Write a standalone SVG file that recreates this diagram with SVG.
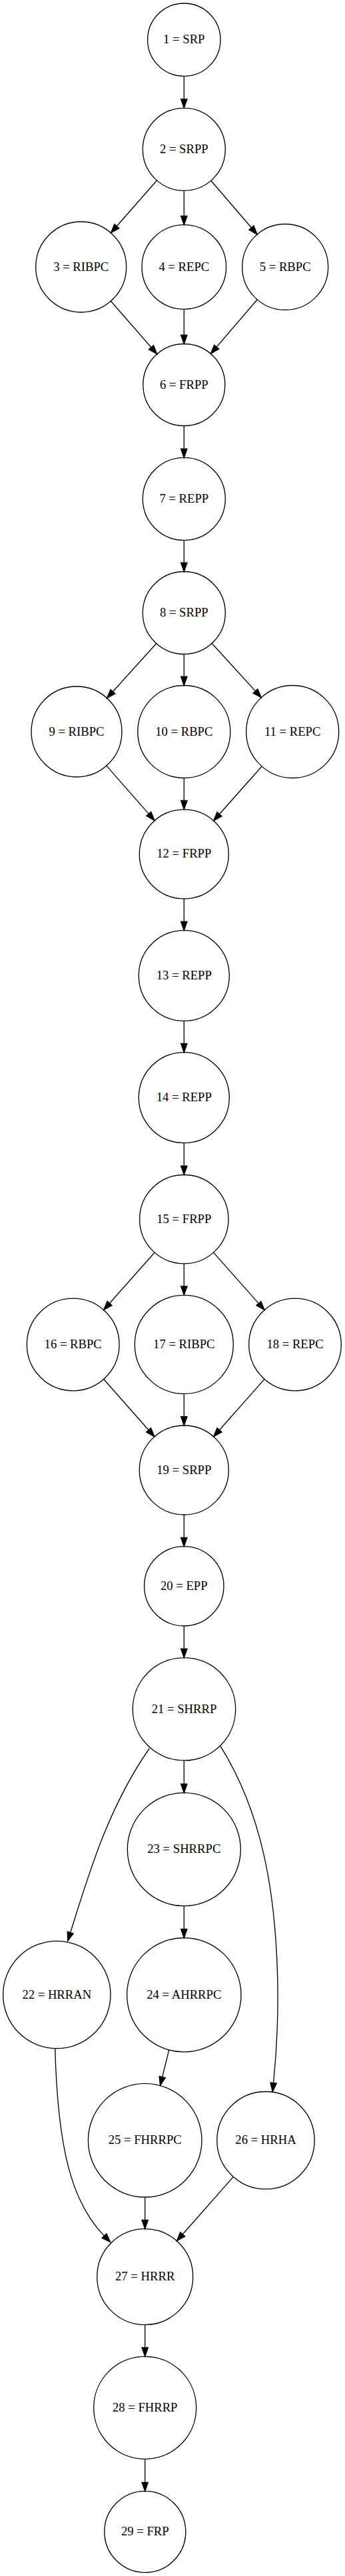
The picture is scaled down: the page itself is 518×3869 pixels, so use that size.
<svg xmlns="http://www.w3.org/2000/svg" width="518" height="3869" viewBox="0 0 518 3869">
<style>
.n ellipse{fill:none;stroke:#000;stroke-width:1.33}
.n text{font-family:"Liberation Serif","Times New Roman",serif;font-size:18.67px;text-anchor:middle;fill:#000}
.e path{fill:none;stroke:#000;stroke-width:1.33;marker-end:url(#ah)}
</style>
<defs>
<marker id="ah" viewBox="0 0 10 7" refX="0" refY="3.5" markerWidth="13.33" markerHeight="9.33" markerUnits="userSpaceOnUse" orient="auto" overflow="visible">
<path d="M0,0 L10,3.5 L0,7 Z" fill="#000" stroke="#000" stroke-width="1"/>
</marker>
</defs>
<rect x="0" y="0" width="518" height="3869" fill="#fff"/>
<g id="edges" class="e">
<path d="M276.3,114.4 L276.3,149"/>
<path d="M235.5,271 L175.3,339.8"/>
<path d="M276.3,286.3 L276.3,324.4"/>
<path d="M316.7,271.3 L377.5,342"/>
<path d="M166.4,452.2 L227,521.7"/>
<path d="M276.3,464.3 L276.3,503.2"/>
<path d="M386.2,450 L325.1,521.2"/>
<path d="M276.3,639.5 L276.3,674.1"/>
<path d="M276.3,811.4 L276.3,845.2"/>
<path d="M234.7,966.5 L169.5,1038.7"/>
<path d="M276.3,982.5 L276.3,1016.2"/>
<path d="M318.1,966.3 L383.4,1037.9"/>
<path d="M159.9,1150.1 L223.3,1222.4"/>
<path d="M276.3,1168.5 L276.3,1202.5"/>
<path d="M393.1,1151 L329.5,1222.7"/>
<path d="M276.3,1349.8 L276.3,1384.1"/>
<path d="M276.3,1533.4 L276.3,1567.3"/>
<path d="M276.3,1716.6 L276.3,1751.2"/>
<path d="M232.1,1881.2 L164.5,1957.5"/>
<path d="M276.3,1897.9 L276.3,1932"/>
<path d="M320.5,1881.1 L388.3,1957.6"/>
<path d="M155.7,2071.5 L223.1,2147.8"/>
<path d="M276.3,2093.3 L276.3,2127.7"/>
<path d="M397.1,2071.4 L329.5,2147.8"/>
<path d="M276.3,2275 L276.3,2309.3"/>
<path d="M276.3,2442 L276.3,2476.5"/>
<path d="M224.3,2626 C161.5,2716.3 132.7,2816.7 105.7,2902.6"/>
<path d="M276.3,2644.2 L276.3,2679.4"/>
<path d="M331,2622.7 C394.5,2724.6 412.9,2843 416.5,2963 C418.2,3018 416.1,3073.7 410.6,3128.4"/>
<path d="M276.3,2862.7 L276.3,2897.4"/>
<path d="M253.8,3078.7 L243.7,3119.5"/>
<path d="M82.7,3076.7 C86.6,3226.7 107.6,3307.9 156.4,3358.1"/>
<path d="M217.7,3300 L217.7,3334.4"/>
<path d="M350.4,3269.4 L274.2,3355.8"/>
<path d="M217.7,3491.7 L217.7,3526"/>
<path d="M217.7,3693.3 L217.7,3728.4"/>
</g>
<g id="node1" class="n"><ellipse cx="276.3" cy="59.7" rx="54.7" ry="54.7"/><text x="276.3" y="65.3">1 = SRP</text></g>
<g id="node2" class="n"><ellipse cx="276.3" cy="224.3" rx="62" ry="62"/><text x="276.3" y="229.9">2 = SRPP</text></g>
<g id="node3" class="n"><ellipse cx="121.7" cy="401" rx="68" ry="68"/><text x="121.7" y="406.6">3 = RIBPC</text></g>
<g id="node4" class="n"><ellipse cx="276.3" cy="401" rx="63.3" ry="63.3"/><text x="276.3" y="406.6">4 = REPC</text></g>
<g id="node5" class="n"><ellipse cx="428.2" cy="401" rx="64.5" ry="64.5"/><text x="428.2" y="406.6">5 = RBPC</text></g>
<g id="node6" class="n"><ellipse cx="276.3" cy="578" rx="61.5" ry="61.5"/><text x="276.3" y="583.6">6 = FRPP</text></g>
<g id="node7" class="n"><ellipse cx="276.3" cy="749.4" rx="62" ry="62"/><text x="276.3" y="755">7 = REPP</text></g>
<g id="node8" class="n"><ellipse cx="276.3" cy="920.5" rx="62" ry="62"/><text x="276.3" y="926.1">8 = SRPP</text></g>
<g id="node9" class="n"><ellipse cx="115" cy="1099" rx="68" ry="68"/><text x="115" y="1104.6">9 = RIBPC</text></g>
<g id="node10" class="n"><ellipse cx="276.3" cy="1099" rx="69.5" ry="69.5"/><text x="276.3" y="1104.6">10 = RBPC</text></g>
<g id="node11" class="n"><ellipse cx="439.2" cy="1099" rx="69.5" ry="69.5"/><text x="439.2" y="1104.6">11 = REPC</text></g>
<g id="node12" class="n"><ellipse cx="276.3" cy="1282.8" rx="67" ry="67"/><text x="276.3" y="1288.4">12 = FRPP</text></g>
<g id="node13" class="n"><ellipse cx="276.3" cy="1465.4" rx="68" ry="68"/><text x="276.3" y="1471">13 = REPP</text></g>
<g id="node14" class="n"><ellipse cx="276.3" cy="1648.6" rx="68" ry="68"/><text x="276.3" y="1654.2">14 = REPP</text></g>
<g id="node15" class="n"><ellipse cx="276.3" cy="1831.2" rx="66.7" ry="66.7"/><text x="276.3" y="1836.8">15 = FRPP</text></g>
<g id="node16" class="n"><ellipse cx="109.7" cy="2019.5" rx="69.4" ry="69.4"/><text x="109.7" y="2025.1">16 = RBPC</text></g>
<g id="node17" class="n"><ellipse cx="276.3" cy="2019.3" rx="74" ry="74"/><text x="276.3" y="2024.9">17 = RIBPC</text></g>
<g id="node18" class="n"><ellipse cx="443" cy="2019.5" rx="69.3" ry="69.3"/><text x="443" y="2025.1">18 = REPC</text></g>
<g id="node19" class="n"><ellipse cx="276.3" cy="2208" rx="67" ry="67"/><text x="276.3" y="2213.6">19 = SRPP</text></g>
<g id="node20" class="n"><ellipse cx="276.3" cy="2382.3" rx="59.7" ry="59.7"/><text x="276.3" y="2387.9">20 = EPP</text></g>
<g id="node21" class="n"><ellipse cx="276.5" cy="2567" rx="77.2" ry="77.2"/><text x="276.5" y="2572.6">21 = SHRRP</text></g>
<g id="node22" class="n"><ellipse cx="85.3" cy="2996" rx="80.7" ry="80.7"/><text x="85.3" y="3001.6">22 = HRRAN</text></g>
<g id="node23" class="n"><ellipse cx="276.3" cy="2777.7" rx="85" ry="85"/><text x="276.3" y="2783.3">23 = SHRRPC</text></g>
<g id="node24" class="n"><ellipse cx="276.3" cy="2996.2" rx="85.7" ry="85.7"/><text x="276.3" y="3001.8">24 = AHRRPC</text></g>
<g id="node25" class="n"><ellipse cx="217.7" cy="3214.7" rx="85.3" ry="85.3"/><text x="217.7" y="3220.3">25 = FHRRPC</text></g>
<g id="node26" class="n"><ellipse cx="399" cy="3214.7" rx="73.2" ry="73.2"/><text x="399" y="3220.3">26 = HRHA</text></g>
<g id="node27" class="n"><ellipse cx="217.7" cy="3419.7" rx="72" ry="72"/><text x="217.7" y="3425.3">27 = HRRR</text></g>
<g id="node28" class="n"><ellipse cx="217.7" cy="3616.3" rx="77" ry="77"/><text x="217.7" y="3621.9">28 = FHRRP</text></g>
<g id="node29" class="n"><ellipse cx="217.8" cy="3802.7" rx="61" ry="61"/><text x="217.8" y="3808.3">29 = FRP</text></g>
</svg>
